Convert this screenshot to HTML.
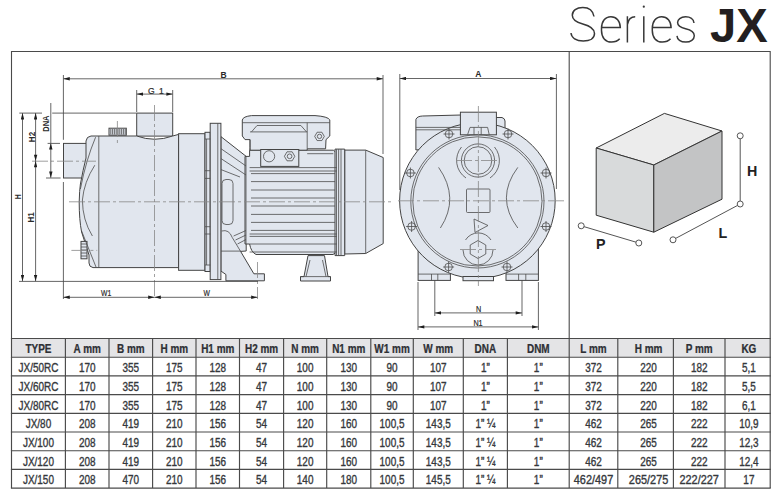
<!DOCTYPE html>
<html><head><meta charset="utf-8"><style>
html,body{margin:0;padding:0;background:#fff;width:780px;height:500px;overflow:hidden}
svg{display:block;font-family:"Liberation Sans",sans-serif}
.th{font-size:12px;font-weight:bold;fill:#2e3035;stroke:#2e3035;stroke-width:0.25;text-anchor:middle}
.td{font-size:12px;fill:#35383c;stroke:#35383c;stroke-width:0.35;text-anchor:middle}
.tl{stroke:#4a4a4a;stroke-width:1.15}
.fr{stroke:#4a4a4a;stroke-width:1.1;fill:none}
.t1{font-size:51.5px;fill:#2a2a2a;stroke:#fff;stroke-width:1.8;text-anchor:middle}
.t2{font-size:48px;font-weight:bold;fill:#231f20}
.o *{fill:#e1e6ee;stroke:#444;stroke-width:1}
.ln *{fill:none;stroke:#4d4d4d;stroke-width:0.8}
.dim line{stroke:#4a4a4a;stroke-width:0.85}
.cl line{stroke:#888;stroke-width:0.8;stroke-dasharray:16 3 3 3}
.dt text{font-size:8.5px;fill:#2a2a2a;stroke:#2a2a2a;stroke-width:0.2;text-anchor:middle}
.dtb{font-weight:bold;stroke-width:0!important}
.cb text{font-size:14.3px;font-weight:bold;fill:#222;text-anchor:middle}
</style></head><body>
<svg width="780" height="500" viewBox="0 0 780 500">
<path d="M594,16.5 C593,10.5 588.5,7.4 582.8,7.4 C576.5,7.4 572.3,10.8 572.3,15.2 C572.3,20 576.5,22.3 582.8,24 C590,25.9 594.5,28.3 594.5,33.5 C594.5,38.3 590,41 583.3,41 C576,41 571.5,37.8 571,33 M627.4,16.3 L627.4,42.6 M627.4,24.5 C628.3,19.5 631,16.8 635.2,16.8 M643.8,16.3 L643.8,42.6 M652.3,27.6 L671.1,27.6 C671.1,20.8 667.2,16.8 661.7,16.8 C655.8,16.8 652.3,21.5 652.3,28.5 L652.3,30.5 C652.3,37.5 656.2,42.1 662.2,42.1 C666,42.1 668.8,40.8 670.5,38.8 M694,23 C693.6,19.2 690.2,16.8 685.6,16.8 C680.6,16.8 677.6,19.5 677.6,22.6 C677.6,26.4 681,27.8 685.6,28.8 C691,30 694.3,31.8 694.3,35.8 C694.3,39.6 690.6,42.1 685.8,42.1 C680.5,42.1 677.2,39.5 677,35.9" fill="none" stroke="#383838" stroke-width="1.5"/><path d="M652.3,27.6 L671.1,27.6 C671.1,20.8 667.2,16.8 661.7,16.8 C655.8,16.8 652.3,21.5 652.3,28.5 L652.3,30.5 C652.3,37.5 656.2,42.1 662.2,42.1 C666,42.1 668.8,40.8 670.5,38.8" transform="translate(-50.8,0)" fill="none" stroke="#383838" stroke-width="1.5"/><circle cx="643.8" cy="6.7" r="1.1" fill="#383838"/><text x="710" y="41.8" class="t2" textLength="57.7" lengthAdjust="spacingAndGlyphs">JX</text>
<polyline points="11.5,338.5 11.5,51.5 770.2,51.5 770.2,338.5" class="fr"/>
<line x1="569.2" y1="51.5" x2="569.2" y2="338.5" class="fr"/>
<defs>
<marker id="ar" viewBox="0 0 10 6" refX="10" refY="3" markerWidth="7" markerHeight="3.8" markerUnits="userSpaceOnUse" orient="auto-start-reverse"><path d="M0,0.3 L10,3 L0,5.7z" fill="#1e1e1e"/></marker>
</defs>
<g class="o">
<rect x="136.7" y="113.1" width="36" height="23"/>
<rect x="63.5" y="143.4" width="24" height="34.6"/>
<path d="M91,136 L136.7,136 Q154.6,142.5 172.7,136 L178.6,134.4 L178.6,267.6 L93,267.6 Q89,267 89,263 L89,255 L81.6,232 Q79.2,220 79.2,202 Q79.5,190 80.4,184 Q83,170 86,158 L86,141 Q86.5,136.5 91,136 Z"/>
<rect x="178.6" y="133.7" width="26.4" height="136.6"/>
<rect x="205" y="132.3" width="5.2" height="139.2"/>
<path d="M220.9,136.6 L246.2,156.4 L246.2,251 L240.6,251.4 L253.9,273.8 L264.4,273.8 L264.4,280.8 L225.9,280.8 L225.9,274.5 L220.9,271 Z"/>
<rect x="210.2" y="123.3" width="10.7" height="156.3"/>
<path d="M245,156.4 L249.6,156.4 L249.6,150.2 L333.3,150.2 L336.8,153 L336.8,252 L333,254.5 L256,254.5 Q251,252 249.6,244 L245,244 Z"/>
<path d="M250,147.4 L250,139.6 L245,139.6 L242.3,136 L242.3,120 Q243,116.5 251.5,115.6 L315,115.6 Q328,116.5 329.8,119.9 L329.8,136 L326,139.6 L325.6,148.8 L307.2,148.8 L307.2,150.2 L250,150.2 Z"/>
<rect x="260.7" y="149.5" width="38.1" height="16.9"/>
<path d="M344.7,150.1 L365.7,150.1 L383.2,157.5 L383.2,243.6 L365.7,253.5 L344.7,254 Z"/>
<path d="M335,149.1 L344.7,149.1 L344.7,255.6 L335,255.6 Z"/>
<path d="M308,255.6 L324.5,255.6 L328,276.6 L330.5,276.6 L330.5,281 L300.5,281 L300.5,276.6 L304,276.6 Z"/>
<rect x="109" y="128.2" width="17.3" height="7"/>
<rect x="81" y="241.4" width="6" height="17.4"/>
</g>
<g class="ln">
<path d="M95.6,137.2 Q86,160 80.4,189" stroke="#333" stroke-width="1.1"/>
<path d="M94.8,165.2 Q84,182 82.4,200 Q82.5,220 92.4,236" stroke="#333" stroke-width="1.2"/>
<path d="M81.6,231 L96,267"/>
<line x1="98.8" y1="136" x2="98.8" y2="267.6"/>
<line x1="110.8" y1="129" x2="110.8" y2="134.5" stroke-width="0.7" stroke="#333"/>
<line x1="112.6" y1="129" x2="112.6" y2="134.5" stroke-width="0.7" stroke="#333"/>
<line x1="114.4" y1="129" x2="114.4" y2="134.5" stroke-width="0.7" stroke="#333"/>
<line x1="116.2" y1="129" x2="116.2" y2="134.5" stroke-width="0.7" stroke="#333"/>
<line x1="118" y1="129" x2="118" y2="134.5" stroke-width="0.7" stroke="#333"/>
<line x1="119.8" y1="129" x2="119.8" y2="134.5" stroke-width="0.7" stroke="#333"/>
<line x1="121.6" y1="129" x2="121.6" y2="134.5" stroke-width="0.7" stroke="#333"/>
<line x1="123.4" y1="129" x2="123.4" y2="134.5" stroke-width="0.7" stroke="#333"/>
<line x1="125.2" y1="129" x2="125.2" y2="134.5" stroke-width="0.7" stroke="#333"/>
<line x1="81" y1="244" x2="87" y2="244" stroke-width="0.5"/>
<line x1="81" y1="247" x2="87" y2="247" stroke-width="0.5"/>
<line x1="81" y1="250" x2="87" y2="250" stroke-width="0.5"/>
<line x1="81" y1="253" x2="87" y2="253" stroke-width="0.5"/>
<line x1="81" y1="256" x2="87" y2="256" stroke-width="0.5"/>
<line x1="205" y1="139" x2="210.2" y2="139"/><line x1="205" y1="170.7" x2="210.2" y2="170.7"/><line x1="205" y1="178.4" x2="210.2" y2="178.4"/><line x1="205" y1="226.7" x2="210.2" y2="226.7"/><line x1="205" y1="234" x2="210.2" y2="234"/><line x1="205" y1="265" x2="210.2" y2="265"/>
<line x1="206.6" y1="139" x2="206.6" y2="265"/>
<line x1="217.8" y1="123.3" x2="217.8" y2="279.6" stroke="#3a3a3a" stroke-width="1.1"/>
<path d="M221,148.7 L246,166 M221,158.6 L246,175 M221,169.6 L240,177"/>
<rect x="222" y="179.5" width="11" height="45" rx="4"/>
<path d="M221.7,231 Q229,229 232.2,237.4 L240.6,251.4"/>
<line x1="221" y1="251.1" x2="240.6" y2="251.1"/>
<path d="M233.6,236 L246,230.5 M235.5,240 L246,235 M237.5,244 L246,239.5"/>
<line x1="246" y1="156.4" x2="246" y2="244"/>
<line x1="249.6" y1="167.6" x2="336.8" y2="167.6"/>
<line x1="249.6" y1="171" x2="336.8" y2="171"/>
<line x1="249.6" y1="234" x2="336.8" y2="234"/>
<line x1="249.6" y1="236.4" x2="336.8" y2="236.4"/>
<line x1="249.6" y1="244" x2="336.8" y2="244"/>
<line x1="249.6" y1="252" x2="336.8" y2="252"/>
<line x1="251" y1="173.6" x2="335" y2="173.6" stroke="#666" stroke-width="1"/>
<line x1="251" y1="181.6" x2="335" y2="181.6" stroke="#666" stroke-width="1"/>
<line x1="251" y1="190" x2="335" y2="190" stroke="#666" stroke-width="1"/>
<line x1="251" y1="198" x2="335" y2="198" stroke="#666" stroke-width="1"/>
<line x1="251" y1="206" x2="335" y2="206" stroke="#666" stroke-width="1"/>
<line x1="251" y1="214.4" x2="335" y2="214.4" stroke="#666" stroke-width="1"/>
<line x1="251" y1="222.4" x2="335" y2="222.4" stroke="#666" stroke-width="1"/>
<line x1="251" y1="230.4" x2="335" y2="230.4" stroke="#666" stroke-width="1"/>
<path d="M242.3,122.7 L329.8,122.7"/>
<path d="M251.5,131.9 L257,125.5 L300.9,125.5 L306.5,131.9"/>
<line x1="250" y1="131.9" x2="307.2" y2="131.9"/>
<line x1="307.2" y1="122.7" x2="307.2" y2="148.8"/>
<line x1="250" y1="139.6" x2="250" y2="150"/>
<circle cx="269.1" cy="156.3" r="5.6"/>
<polygon points="294.80,156.30 292.20,160.80 287.00,160.80 284.40,156.30 287.00,151.80 292.20,151.80"/><circle cx="289.6" cy="156.3" r="2.34"/>
<polygon points="324.30,136.40 321.90,140.56 317.10,140.56 314.70,136.40 317.10,132.24 321.90,132.24"/><circle cx="319.5" cy="136.4" r="2.16"/>
<line x1="307.2" y1="153.7" x2="333.3" y2="153.7"/>
<line x1="336.5" y1="149.3" x2="336.5" y2="255.4" stroke-width="0.7"/>
<line x1="338.6" y1="149.3" x2="338.6" y2="255.4" stroke-width="0.7"/>
<line x1="341" y1="149.3" x2="341" y2="255.4" stroke-width="0.7"/>
<line x1="365.7" y1="150.1" x2="365.7" y2="253.5"/>
<path d="M310,260 L306,276.6 M322.5,260 L326,276.6 M300.5,276.6 L330.5,276.6"/>
</g>
<g class="o">
<path d="M415.9,150 L415.9,119.5 Q417,116.2 422.6,116 L461,115 L461,145 Z"/>
<path d="M495,117.5 L502,117.5 Q505,118.5 505,121 L505,140 L495,140 Z"/>
<rect x="418.1" y="236" width="32.3" height="44.4"/>
<rect x="506" y="236" width="32.4" height="44.4"/>
<circle cx="477.4" cy="200.6" r="77.8"/>
<rect x="460.4" y="112.2" width="36" height="22.6"/>
<rect x="463" y="276.5" width="30.5" height="4.2"/>
</g>
<g class="ln">
<line x1="415.9" y1="127.4" x2="461" y2="127.4"/><line x1="415.9" y1="129.8" x2="461" y2="129.8"/>
<circle cx="477.4" cy="201.4" r="66.6" stroke="#3a3a3a" stroke-width="0.95"/>
<circle cx="477.4" cy="201.4" r="64.6" stroke="#3a3a3a" stroke-width="0.95"/>
<line x1="418.1" y1="274.1" x2="450.4" y2="274.1"/><line x1="506" y1="274.1" x2="538.4" y2="274.1"/>
<path d="M431.5,274 L431.5,280.4 M437.8,274 L437.8,280.4 M518.6,274 L518.6,280.4 M525.8,274 L525.8,280.4"/>
<path d="M467.6,134.6 L470,127.4 L487.6,127.4 L489.2,134.6 M474,127.4 L474,134.6 M481.2,127.4 L481.2,134.6"/>
<circle cx="478" cy="160.5" r="16.6"/>
<circle cx="478" cy="160.5" r="13.8"/>
<path d="M461.5,147 A21,21 0 0,0 466,178"/>
<path d="M494.5,147 A21,21 0 0,1 490,178"/>
<rect x="466.5" y="189" width="23.5" height="23.5" rx="1"/>
<path d="M474,219 L488,225.5 L475,232.5 Z"/>
<polygon points="478.00,258.50 470.21,254.00 470.21,245.00 478.00,240.50 485.79,245.00 485.79,254.00"/>
<path d="M465.5,240 A15,15 0 0,1 491,240"/><path d="M463,250 A15,15 0 0,0 493,250"/>
<path d="M438.6,167.4 Q460,198 440.4,228" stroke-width="1.2" stroke="#333"/>
<path d="M517.8,167.4 Q495,198 517.8,228" stroke-width="1.2" stroke="#333"/>
<circle cx="449" cy="134" r="3.8"/>
<path d="M443.5,134 L454.5,134 M449,128.5 L449,139.5" stroke-width="0.6"/>
<circle cx="508" cy="134" r="3.8"/>
<path d="M502.5,134 L513.5,134 M508,128.5 L508,139.5" stroke-width="0.6"/>
<circle cx="410.4" cy="173" r="3.8"/>
<path d="M404.9,173 L415.9,173 M410.4,167.5 L410.4,178.5" stroke-width="0.6"/>
<circle cx="546" cy="173" r="3.8"/>
<path d="M540.5,173 L551.5,173 M546,167.5 L546,178.5" stroke-width="0.6"/>
<circle cx="411.6" cy="226.5" r="3.8"/>
<path d="M406.1,226.5 L417.1,226.5 M411.6,221.0 L411.6,232.0" stroke-width="0.6"/>
<circle cx="546" cy="226.5" r="3.8"/>
<path d="M540.5,226.5 L551.5,226.5 M546,221.0 L546,232.0" stroke-width="0.6"/>
<circle cx="448.6" cy="267" r="3.8"/>
<path d="M443.1,267 L454.1,267 M448.6,261.5 L448.6,272.5" stroke-width="0.6"/>
<circle cx="507" cy="267" r="3.8"/>
<path d="M501.5,267 L512.5,267 M507,261.5 L507,272.5" stroke-width="0.6"/>
</g>
<g stroke="#333" stroke-width="1" stroke-linejoin="round">
<path d="M596.2,148 L664.4,113.4 L722,131 L653.8,165 Z" fill="#ececec"/>
<path d="M596.2,148 L653.8,165 L653.8,232.2 L596.2,215.2 Z" fill="#d8dadb"/>
<path d="M653.8,165 L722,131 L722,199.2 L653.8,232.2 Z" fill="#c3c4c5"/>
</g>
<g stroke="#555" stroke-width="1" fill="#fff">
<line x1="740.2" y1="135.8" x2="740.2" y2="204"/>
<line x1="740.2" y1="204" x2="673" y2="239.8"/>
<line x1="581.2" y1="225.8" x2="638.8" y2="243"/>
<circle cx="740.2" cy="135.8" r="3"/>
<circle cx="740.2" cy="204" r="3"/>
<circle cx="673" cy="239.8" r="3"/>
<circle cx="581.2" cy="225.8" r="3"/>
<circle cx="638.8" cy="243" r="3"/>
</g>
<g class="cb">
<text x="752.2" y="176">H</text>
<text x="722.9" y="238.4">L</text>
<text x="600.8" y="249.1">P</text>
</g>
<g class="cl">
<line x1="32" y1="161.2" x2="96" y2="161.2"/>
<line x1="69" y1="201.8" x2="394" y2="201.8"/>
<line x1="154.5" y1="105" x2="154.5" y2="299"/>
<line x1="117.4" y1="121" x2="117.4" y2="146"/>
<line x1="71.4" y1="250.4" x2="97.2" y2="250.4"/>
<line x1="257.5" y1="262" x2="257.5" y2="299"/>
<line x1="398" y1="200.8" x2="564" y2="200.8"/>
<line x1="478.4" y1="106" x2="478.4" y2="286"/>
<line x1="456" y1="160.5" x2="500" y2="160.5"/>
<line x1="460" y1="249.5" x2="496" y2="249.5"/>
</g>
<g class="dim">
<line x1="63.4" y1="78.8" x2="383" y2="78.8" marker-start="url(#ar)" marker-end="url(#ar)"/>
<line x1="63.4" y1="75" x2="63.4" y2="139.8"/>
<line x1="63.4" y1="182" x2="63.4" y2="299"/>
<line x1="383" y1="75" x2="383" y2="154"/>
<line x1="136.7" y1="94.1" x2="172.7" y2="94.1" marker-start="url(#ar)" marker-end="url(#ar)"/>
<line x1="136.7" y1="90" x2="136.7" y2="112"/>
<line x1="172.7" y1="90" x2="172.7" y2="112"/>
<line x1="19.3" y1="113.1" x2="42" y2="113.1"/>
<line x1="52.2" y1="113.1" x2="136" y2="113.1"/>
<line x1="22.5" y1="113.1" x2="22.5" y2="281.2" marker-start="url(#ar)" marker-end="url(#ar)"/>
<line x1="35.6" y1="113.1" x2="35.6" y2="161" marker-start="url(#ar)" marker-end="url(#ar)"/>
<line x1="35.6" y1="161" x2="35.6" y2="281.2" marker-start="url(#ar)" marker-end="url(#ar)"/>
<line x1="50.8" y1="103" x2="50.8" y2="143.2"/>
<line x1="50.8" y1="143.2" x2="50.8" y2="177.8" marker-start="url(#ar)" marker-end="url(#ar)"/>
<line x1="47.6" y1="143.4" x2="60" y2="143.4"/>
<line x1="46" y1="178" x2="60.6" y2="178"/>
<line x1="19" y1="281.4" x2="258" y2="281.4"/>
<line x1="63.4" y1="297.3" x2="154.5" y2="297.3" marker-start="url(#ar)" marker-end="url(#ar)"/>
<line x1="154.5" y1="297.3" x2="257.5" y2="297.3" marker-start="url(#ar)" marker-end="url(#ar)"/>

<line x1="399.8" y1="78.5" x2="556.4" y2="78.5" marker-start="url(#ar)" marker-end="url(#ar)"/>
<line x1="399.8" y1="74" x2="399.8" y2="190"/>
<line x1="556.4" y1="74" x2="556.4" y2="189"/>
<line x1="434.8" y1="312.9" x2="522" y2="312.9" marker-start="url(#ar)" marker-end="url(#ar)"/>
<line x1="418" y1="326.9" x2="538.4" y2="326.9" marker-start="url(#ar)" marker-end="url(#ar)"/>
<line x1="434.8" y1="280" x2="434.8" y2="316"/>
<line x1="522" y1="280" x2="522" y2="316"/>
<line x1="418" y1="282" x2="418" y2="330"/>
<line x1="538.4" y1="282" x2="538.4" y2="330"/>
</g>
<g class="dt">
<text x="223.5" y="78.2" class="dtb" font-size="8">B</text>
<text x="478.3" y="76.8" class="dtb" font-size="7">A</text>
<text x="148" y="93.6" style="text-anchor:start" font-size="8.4">G</text>
<text x="159" y="93.6" style="text-anchor:start" font-size="8.4">1</text>
<text transform="translate(106.2,296.2) scale(0.8,1)" font-size="9">W1</text>
<text transform="translate(206.7,296.2) scale(0.8,1)" font-size="9">W</text>
<text transform="translate(478.5,312) scale(0.85,1)" font-size="8.2">N</text>
<text transform="translate(478,326.3) scale(0.85,1)" font-size="8.2">N1</text>
<text transform="translate(21.3,196.8) rotate(-90) scale(0.8,1)" class="dtb" font-size="7">H</text>
<text transform="translate(34.2,217.4) rotate(-90) scale(0.95,1)" class="dtb" font-size="7">H1</text>
<text transform="translate(34.6,137) rotate(-90) scale(0.95,1)" class="dtb" font-size="7">H2</text>
<text transform="translate(48.9,123.6) rotate(-90) scale(0.88,1)" class="dtb" font-size="7.8">DNA</text>
</g>
<rect x="11.5" y="338.5" width="758.7" height="18.69999999999999" fill="#e4e4e6"/>
<text x="46.33" y="353.20" transform="scale(0.83,1)" class="th">TYPE</text>
<text x="105.06" y="353.20" transform="scale(0.83,1)" class="th">A mm</text>
<text x="157.59" y="353.20" transform="scale(0.83,1)" class="th">B mm</text>
<text x="210.00" y="353.20" transform="scale(0.83,1)" class="th">H mm</text>
<text x="262.35" y="353.20" transform="scale(0.83,1)" class="th">H1 mm</text>
<text x="315.12" y="353.20" transform="scale(0.83,1)" class="th">H2 mm</text>
<text x="367.65" y="353.20" transform="scale(0.83,1)" class="th">N mm</text>
<text x="420.18" y="353.20" transform="scale(0.83,1)" class="th">N1 mm</text>
<text x="472.35" y="353.20" transform="scale(0.83,1)" class="th">W1 mm</text>
<text x="528.07" y="353.20" transform="scale(0.83,1)" class="th">W mm</text>
<text x="584.76" y="353.20" transform="scale(0.83,1)" class="th">DNA</text>
<text x="648.55" y="353.20" transform="scale(0.83,1)" class="th">DNM</text>
<text x="715.06" y="353.20" transform="scale(0.83,1)" class="th">L mm</text>
<text x="781.45" y="353.20" transform="scale(0.83,1)" class="th">H mm</text>
<text x="842.41" y="353.20" transform="scale(0.83,1)" class="th">P mm</text>
<text x="902.29" y="353.20" transform="scale(0.83,1)" class="th">KG</text>
<text x="46.33" y="372.20" transform="scale(0.83,1)" class="td">JX/50RC</text>
<text x="105.06" y="372.20" transform="scale(0.83,1)" class="td">170</text>
<text x="157.59" y="372.20" transform="scale(0.83,1)" class="td">355</text>
<text x="210.00" y="372.20" transform="scale(0.83,1)" class="td">175</text>
<text x="262.35" y="372.20" transform="scale(0.83,1)" class="td">128</text>
<text x="315.12" y="372.20" transform="scale(0.83,1)" class="td">47</text>
<text x="367.65" y="372.20" transform="scale(0.83,1)" class="td">100</text>
<text x="420.18" y="372.20" transform="scale(0.83,1)" class="td">130</text>
<text x="472.35" y="372.20" transform="scale(0.83,1)" class="td">90</text>
<text x="528.07" y="372.20" transform="scale(0.83,1)" class="td">107</text>
<text x="584.76" y="372.20" transform="scale(0.83,1)" class="td">1”</text>
<text x="648.55" y="372.20" transform="scale(0.83,1)" class="td">1”</text>
<text x="715.06" y="372.20" transform="scale(0.83,1)" class="td">372</text>
<text x="781.45" y="372.20" transform="scale(0.83,1)" class="td">220</text>
<text x="842.41" y="372.20" transform="scale(0.83,1)" class="td">182</text>
<text x="902.29" y="372.20" transform="scale(0.83,1)" class="td">5,1</text>
<text x="46.33" y="390.90" transform="scale(0.83,1)" class="td">JX/60RC</text>
<text x="105.06" y="390.90" transform="scale(0.83,1)" class="td">170</text>
<text x="157.59" y="390.90" transform="scale(0.83,1)" class="td">355</text>
<text x="210.00" y="390.90" transform="scale(0.83,1)" class="td">175</text>
<text x="262.35" y="390.90" transform="scale(0.83,1)" class="td">128</text>
<text x="315.12" y="390.90" transform="scale(0.83,1)" class="td">47</text>
<text x="367.65" y="390.90" transform="scale(0.83,1)" class="td">100</text>
<text x="420.18" y="390.90" transform="scale(0.83,1)" class="td">130</text>
<text x="472.35" y="390.90" transform="scale(0.83,1)" class="td">90</text>
<text x="528.07" y="390.90" transform="scale(0.83,1)" class="td">107</text>
<text x="584.76" y="390.90" transform="scale(0.83,1)" class="td">1”</text>
<text x="648.55" y="390.90" transform="scale(0.83,1)" class="td">1”</text>
<text x="715.06" y="390.90" transform="scale(0.83,1)" class="td">372</text>
<text x="781.45" y="390.90" transform="scale(0.83,1)" class="td">220</text>
<text x="842.41" y="390.90" transform="scale(0.83,1)" class="td">182</text>
<text x="902.29" y="390.90" transform="scale(0.83,1)" class="td">5,5</text>
<text x="46.33" y="409.60" transform="scale(0.83,1)" class="td">JX/80RC</text>
<text x="105.06" y="409.60" transform="scale(0.83,1)" class="td">170</text>
<text x="157.59" y="409.60" transform="scale(0.83,1)" class="td">355</text>
<text x="210.00" y="409.60" transform="scale(0.83,1)" class="td">175</text>
<text x="262.35" y="409.60" transform="scale(0.83,1)" class="td">128</text>
<text x="315.12" y="409.60" transform="scale(0.83,1)" class="td">47</text>
<text x="367.65" y="409.60" transform="scale(0.83,1)" class="td">100</text>
<text x="420.18" y="409.60" transform="scale(0.83,1)" class="td">130</text>
<text x="472.35" y="409.60" transform="scale(0.83,1)" class="td">90</text>
<text x="528.07" y="409.60" transform="scale(0.83,1)" class="td">107</text>
<text x="584.76" y="409.60" transform="scale(0.83,1)" class="td">1”</text>
<text x="648.55" y="409.60" transform="scale(0.83,1)" class="td">1”</text>
<text x="715.06" y="409.60" transform="scale(0.83,1)" class="td">372</text>
<text x="781.45" y="409.60" transform="scale(0.83,1)" class="td">220</text>
<text x="842.41" y="409.60" transform="scale(0.83,1)" class="td">182</text>
<text x="902.29" y="409.60" transform="scale(0.83,1)" class="td">6,1</text>
<text x="46.33" y="428.30" transform="scale(0.83,1)" class="td">JX/80</text>
<text x="105.06" y="428.30" transform="scale(0.83,1)" class="td">208</text>
<text x="157.59" y="428.30" transform="scale(0.83,1)" class="td">419</text>
<text x="210.00" y="428.30" transform="scale(0.83,1)" class="td">210</text>
<text x="262.35" y="428.30" transform="scale(0.83,1)" class="td">156</text>
<text x="315.12" y="428.30" transform="scale(0.83,1)" class="td">54</text>
<text x="367.65" y="428.30" transform="scale(0.83,1)" class="td">120</text>
<text x="420.18" y="428.30" transform="scale(0.83,1)" class="td">160</text>
<text x="472.35" y="428.30" transform="scale(0.83,1)" class="td">100,5</text>
<text x="528.07" y="428.30" transform="scale(0.83,1)" class="td">143,5</text>
<text x="584.76" y="428.30" transform="scale(0.83,1)" class="td">1” ¼</text>
<text x="648.55" y="428.30" transform="scale(0.83,1)" class="td">1”</text>
<text x="715.06" y="428.30" transform="scale(0.83,1)" class="td">462</text>
<text x="781.45" y="428.30" transform="scale(0.83,1)" class="td">265</text>
<text x="842.41" y="428.30" transform="scale(0.83,1)" class="td">222</text>
<text x="902.29" y="428.30" transform="scale(0.83,1)" class="td">10,9</text>
<text x="46.33" y="447.00" transform="scale(0.83,1)" class="td">JX/100</text>
<text x="105.06" y="447.00" transform="scale(0.83,1)" class="td">208</text>
<text x="157.59" y="447.00" transform="scale(0.83,1)" class="td">419</text>
<text x="210.00" y="447.00" transform="scale(0.83,1)" class="td">210</text>
<text x="262.35" y="447.00" transform="scale(0.83,1)" class="td">156</text>
<text x="315.12" y="447.00" transform="scale(0.83,1)" class="td">54</text>
<text x="367.65" y="447.00" transform="scale(0.83,1)" class="td">120</text>
<text x="420.18" y="447.00" transform="scale(0.83,1)" class="td">160</text>
<text x="472.35" y="447.00" transform="scale(0.83,1)" class="td">100,5</text>
<text x="528.07" y="447.00" transform="scale(0.83,1)" class="td">143,5</text>
<text x="584.76" y="447.00" transform="scale(0.83,1)" class="td">1” ¼</text>
<text x="648.55" y="447.00" transform="scale(0.83,1)" class="td">1”</text>
<text x="715.06" y="447.00" transform="scale(0.83,1)" class="td">462</text>
<text x="781.45" y="447.00" transform="scale(0.83,1)" class="td">265</text>
<text x="842.41" y="447.00" transform="scale(0.83,1)" class="td">222</text>
<text x="902.29" y="447.00" transform="scale(0.83,1)" class="td">12,3</text>
<text x="46.33" y="465.70" transform="scale(0.83,1)" class="td">JX/120</text>
<text x="105.06" y="465.70" transform="scale(0.83,1)" class="td">208</text>
<text x="157.59" y="465.70" transform="scale(0.83,1)" class="td">419</text>
<text x="210.00" y="465.70" transform="scale(0.83,1)" class="td">210</text>
<text x="262.35" y="465.70" transform="scale(0.83,1)" class="td">156</text>
<text x="315.12" y="465.70" transform="scale(0.83,1)" class="td">54</text>
<text x="367.65" y="465.70" transform="scale(0.83,1)" class="td">120</text>
<text x="420.18" y="465.70" transform="scale(0.83,1)" class="td">160</text>
<text x="472.35" y="465.70" transform="scale(0.83,1)" class="td">100,5</text>
<text x="528.07" y="465.70" transform="scale(0.83,1)" class="td">143,5</text>
<text x="584.76" y="465.70" transform="scale(0.83,1)" class="td">1” ¼</text>
<text x="648.55" y="465.70" transform="scale(0.83,1)" class="td">1”</text>
<text x="715.06" y="465.70" transform="scale(0.83,1)" class="td">462</text>
<text x="781.45" y="465.70" transform="scale(0.83,1)" class="td">265</text>
<text x="842.41" y="465.70" transform="scale(0.83,1)" class="td">222</text>
<text x="902.29" y="465.70" transform="scale(0.83,1)" class="td">12,4</text>
<text x="46.33" y="484.40" transform="scale(0.83,1)" class="td">JX/150</text>
<text x="105.06" y="484.40" transform="scale(0.83,1)" class="td">208</text>
<text x="157.59" y="484.40" transform="scale(0.83,1)" class="td">470</text>
<text x="210.00" y="484.40" transform="scale(0.83,1)" class="td">210</text>
<text x="262.35" y="484.40" transform="scale(0.83,1)" class="td">156</text>
<text x="315.12" y="484.40" transform="scale(0.83,1)" class="td">54</text>
<text x="367.65" y="484.40" transform="scale(0.83,1)" class="td">140</text>
<text x="420.18" y="484.40" transform="scale(0.83,1)" class="td">180</text>
<text x="472.35" y="484.40" transform="scale(0.83,1)" class="td">100,5</text>
<text x="528.07" y="484.40" transform="scale(0.83,1)" class="td">145,5</text>
<text x="584.76" y="484.40" transform="scale(0.83,1)" class="td">1” ¼</text>
<text x="648.55" y="484.40" transform="scale(0.83,1)" class="td">1”</text>
<text x="652.20" y="484.40" transform="scale(0.91,1)" class="td">462/497</text>
<text x="712.75" y="484.40" transform="scale(0.91,1)" class="td">265/275</text>
<text x="768.35" y="484.40" transform="scale(0.91,1)" class="td">222/227</text>
<text x="902.29" y="484.40" transform="scale(0.83,1)" class="td">17</text>
<line x1="10.9" y1="338.5" x2="770.8000000000001" y2="338.5" class="tl"/>
<line x1="10.9" y1="357.2" x2="770.8000000000001" y2="357.2" class="tl"/>
<line x1="10.9" y1="375.9" x2="770.8000000000001" y2="375.9" class="tl"/>
<line x1="10.9" y1="394.6" x2="770.8000000000001" y2="394.6" class="tl"/>
<line x1="10.9" y1="413.3" x2="770.8000000000001" y2="413.3" class="tl"/>
<line x1="10.9" y1="432.0" x2="770.8000000000001" y2="432.0" class="tl"/>
<line x1="10.9" y1="450.7" x2="770.8000000000001" y2="450.7" class="tl"/>
<line x1="10.9" y1="469.4" x2="770.8000000000001" y2="469.4" class="tl"/>
<line x1="10.9" y1="488.1" x2="770.8000000000001" y2="488.1" class="tl"/>
<line x1="11.5" y1="338.5" x2="11.5" y2="488.1" class="tl"/>
<line x1="65.4" y1="338.5" x2="65.4" y2="488.1" class="tl"/>
<line x1="109" y1="338.5" x2="109" y2="488.1" class="tl"/>
<line x1="152.6" y1="338.5" x2="152.6" y2="488.1" class="tl"/>
<line x1="196" y1="338.5" x2="196" y2="488.1" class="tl"/>
<line x1="239.5" y1="338.5" x2="239.5" y2="488.1" class="tl"/>
<line x1="283.6" y1="338.5" x2="283.6" y2="488.1" class="tl"/>
<line x1="326.7" y1="338.5" x2="326.7" y2="488.1" class="tl"/>
<line x1="370.8" y1="338.5" x2="370.8" y2="488.1" class="tl"/>
<line x1="413.3" y1="338.5" x2="413.3" y2="488.1" class="tl"/>
<line x1="463.3" y1="338.5" x2="463.3" y2="488.1" class="tl"/>
<line x1="507.4" y1="338.5" x2="507.4" y2="488.1" class="tl"/>
<line x1="569.2" y1="338.5" x2="569.2" y2="488.1" class="tl"/>
<line x1="617.8" y1="338.5" x2="617.8" y2="488.1" class="tl"/>
<line x1="673.4" y1="338.5" x2="673.4" y2="488.1" class="tl"/>
<line x1="725" y1="338.5" x2="725" y2="488.1" class="tl"/>
<line x1="770.2" y1="338.5" x2="770.2" y2="488.1" class="tl"/>
</svg>
</body></html>
